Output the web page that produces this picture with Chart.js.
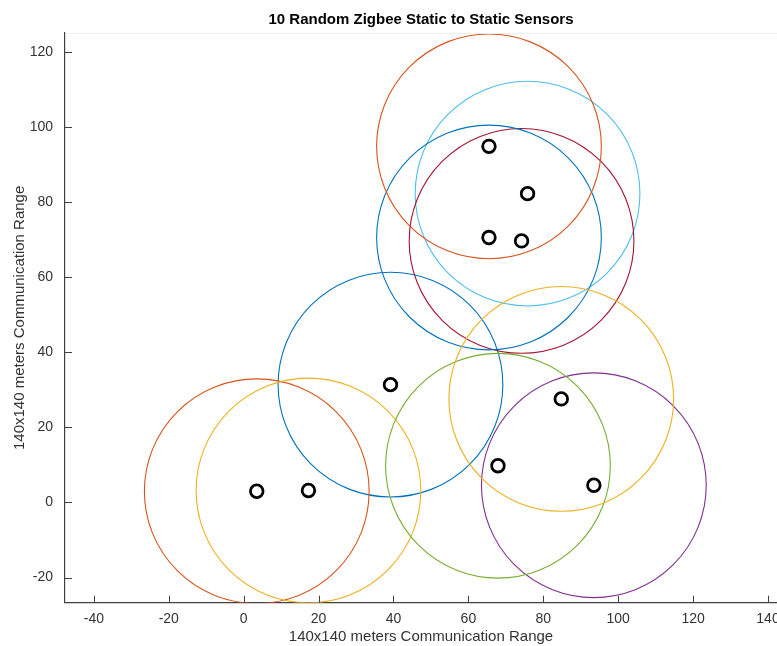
<!DOCTYPE html>
<html>
<head>
<meta charset="utf-8">
<script src="https://cdn.jsdelivr.net/npm/chart.js@4"></script>
<style>
  html, body { margin: 0; padding: 0; background: #fff; overflow: hidden; }
  #wrap { position: relative; width: 777px; height: 646px; overflow: hidden; }
  #wrap canvas { position: absolute; left: 0; top: 0; }
</style>
</head>
<body>
<div id="wrap"><canvas id="c" width="820" height="646"></canvas></div>
<script>
// Sensor positions (metres)
const sensorX = [39.2, 3.5, 17.3, 93.5, 67.9, 75.8, 74.2, 65.5, 65.5, 84.8];
const sensorY = [31.4, 3.0, 3.2, 4.6, 9.8, 82.3, 69.7, 70.6, 94.9, 27.6];
// Range circle colour for each sensor
const circleColors = ['#0072BD', '#D95319', '#EDB120', '#7E2F8E', '#77AC30',
                      '#4DBEEE', '#A2142F', '#0072BD', '#D95319', '#EDB120'];
// Communication radius of every sensor (metres)
const commRange = 30;
// Axis tick values
const xTicks = [-40, -20, 0, 20, 40, 60, 80, 100, 120, 140];
const yTicks = [-20, 0, 20, 40, 60, 80, 100, 120];

const titleText = '10 Random Zigbee Static to Static Sensors';
const xLabel = '140x140 meters Communication Range';
const yLabel = '140x140 meters Communication Range';

const points = sensorX.map((x, i) => ({ x: x, y: sensorY[i] }));
const AXIS = '#404040';
const FONT = "'Liberation Sans', Arial, sans-serif";

// radius in pixels of a distance given in data units on the x scale
function rangePx(chart, r) {
  const s = chart.scales.x;
  return Math.abs(s.getPixelForValue(r) - s.getPixelForValue(0));
}

// inward tick marks and the faint upper box edge
const axisDecor = {
  id: 'axisDecor',
  afterDraw(chart) {
    const { ctx, chartArea: a, scales: { x, y } } = chart;
    ctx.save();
    ctx.strokeStyle = AXIS;
    ctx.lineWidth = 1;
    ctx.beginPath();
    xTicks.forEach(v => {
      const p = Math.round(x.getPixelForValue(v)) + 0.5;
      ctx.moveTo(p, a.bottom);
      ctx.lineTo(p, a.bottom - 7);
    });
    yTicks.forEach(v => {
      const p = Math.round(y.getPixelForValue(v)) + 0.5;
      ctx.moveTo(a.left, p);
      ctx.lineTo(a.left + 7, p);
    });
    ctx.stroke();
    ctx.strokeStyle = '#eeeeee';
    ctx.beginPath();
    ctx.moveTo(a.left, Math.round(a.top) + 0.5);
    ctx.lineTo(a.right, Math.round(a.top) + 0.5);
    ctx.stroke();
    ctx.restore();
  }
};

new Chart(document.getElementById('c'), {
  type: 'scatter',
  data: {
    datasets: [
      {
        label: 'Sensors',
        data: points,
        order: 0,
        pointStyle: 'circle',
        pointRadius: 6.3,
        pointBorderWidth: 2.8,
        pointBorderColor: '#000000',
        pointBackgroundColor: 'rgba(255,255,255,0)'
      },
      {
        label: 'Range',
        data: points,
        order: 1,
        pointStyle: 'circle',
        pointRadius: ctx => rangePx(ctx.chart, commRange),
        pointBorderWidth: 1.1,
        pointBorderColor: circleColors,
        pointBackgroundColor: 'rgba(255,255,255,0)'
      }
    ]
  },
  options: {
    responsive: false,
    animation: false,
    events: [],
    layout: { padding: { left: 0, right: 43, top: 0, bottom: 0 } },
    plugins: {
      legend: { display: false },
      tooltip: { enabled: false },
      title: {
        display: true,
        fullSize: false,
        text: titleText,
        color: '#000000',
        font: { family: FONT, size: 15, weight: 'bold', lineHeight: 1.2 },
        padding: { top: 11, bottom: 4 }
      }
    },
    scales: {
      x: {
        type: 'linear',
        min: -47.7,
        max: 142.4,
        grid: { display: false, drawTicks: false },
        border: { display: true, color: AXIS, width: 1.2 },
        afterBuildTicks: s => { s.ticks = xTicks.map(v => ({ value: v })); },
        afterFit: s => { s.height = 43.3; s.paddingLeft = 0; s.paddingRight = 0; },
        ticks: {
          color: '#333333',
          padding: 8,
          maxRotation: 0,
          autoSkip: false,
          font: { family: FONT, size: 14 }
        },
        title: {
          display: true,
          text: xLabel,
          color: '#333333',
          font: { family: FONT, size: 15, lineHeight: 1.2 },
          padding: { top: 0, bottom: 0 }
        }
      },
      y: {
        type: 'linear',
        min: -26.7,
        max: 125.1,
        grid: { display: false, drawTicks: false },
        border: { display: true, color: AXIS, width: 1.2 },
        afterBuildTicks: s => { s.ticks = yTicks.map(v => ({ value: v })); },
        afterFit: s => { s.width = 65; s.paddingTop = 0; s.paddingBottom = 0; },
        ticks: {
          color: '#333333',
          padding: 12,
          autoSkip: false,
          font: { family: FONT, size: 14 }
        },
        title: {
          display: true,
          text: yLabel,
          color: '#333333',
          font: { family: FONT, size: 15, lineHeight: 1.2 },
          padding: { top: 11, bottom: 0 }
        }
      }
    }
  },
  plugins: [axisDecor]
});
</script>
</body>
</html>
